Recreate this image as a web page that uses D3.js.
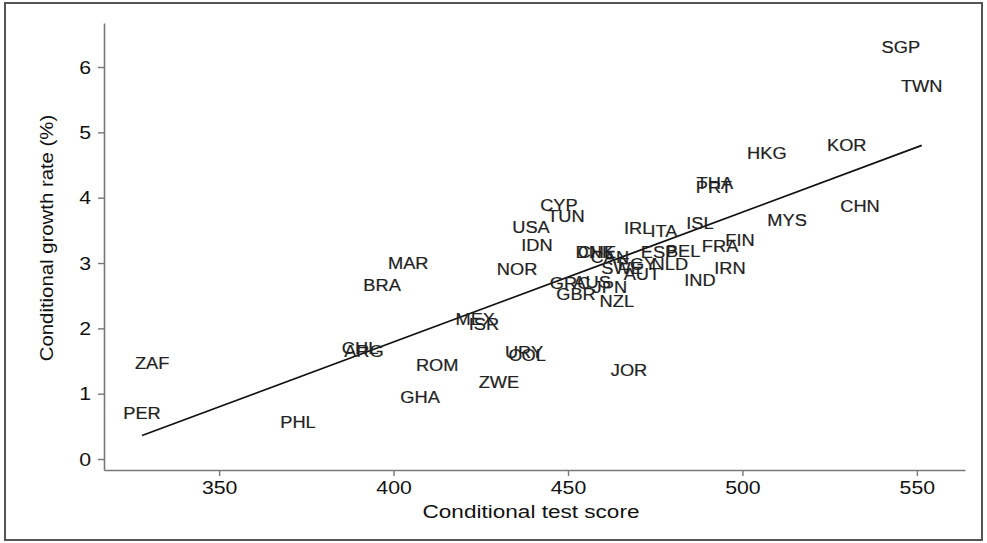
<!DOCTYPE html>
<html><head><meta charset="utf-8">
<script src="https://cdn.jsdelivr.net/npm/d3@7"></script>
<style>html,body{margin:0;padding:0;background:#fff;}svg{display:block;font-family:"Liberation Sans",Arial,sans-serif;}</style>
</head><body><svg id="c" width="987" height="543"></svg>
<script>
const countries = ["SGP","TWN","KOR","HKG","CHN","THA","PRT","MYS","ISL","FIN","FRA","BEL","ESP","ITA","IRL","IRN","IND","NLD","EGY","SWE","AUT","DNK","CHE","CAN","GRC","AUS","JPN","GBR","NZL","CYP","TUN","USA","IDN","NOR","MAR","BRA","MEX","ISR","URY","COL","JOR","ZWE","ROM","GHA","PHL","CHL","ARG","ZAF","PER"];
const testScore = [545.4,551.4,529.9,507.0,533.7,492.1,491.8,512.8,487.8,499.3,493.6,483.0,476.1,477.5,470.1,496.4,487.8,479.2,469.8,465.5,471.2,457.7,458.3,462.0,450.6,456.9,462.0,452.3,464.0,447.4,449.4,439.4,441.1,435.4,404.2,396.7,423.4,425.9,437.4,438.3,467.5,430.2,412.5,407.6,372.6,390.4,391.5,330.8,327.9];
const growthRate = [6.31,5.71,4.81,4.68,3.87,4.22,4.16,3.66,3.61,3.35,3.26,3.18,3.17,3.49,3.54,2.92,2.74,2.98,2.98,2.92,2.83,3.17,3.17,3.09,2.69,2.71,2.63,2.53,2.42,3.89,3.72,3.55,3.28,2.91,3.00,2.66,2.14,2.07,1.64,1.59,1.36,1.18,1.44,0.95,0.57,1.70,1.65,1.47,0.70];
const fitScore = [327.9, 551.4];
const fitGrowth = [0.36, 4.80];
const xTicks = [350,400,450,500,550];
const yTicks = [0,1,2,3,4,5,6];

const svg = d3.select("#c");
const SX = 1.12;
svg.append("rect").attr("x",5).attr("y",3).attr("width",977).attr("height",537)
  .attr("fill","none").attr("stroke","#555").attr("stroke-width",2);

const x = d3.scaleLinear().domain([317,563.8]).range([104,965]);
const y = d3.scaleLinear().domain([-0.168,6.674]).range([470,23]);

const gx = svg.append("g").attr("transform","translate(0,470)")
  .call(d3.axisBottom(x).tickValues(xTicks).tickFormat(d3.format("d")).tickSize(6).tickPadding(5).tickSizeOuter(0));
const gy = svg.append("g").attr("transform","translate(104,0)")
  .call(d3.axisLeft(y).tickValues(yTicks).tickFormat(d3.format("d")).tickSize(6).tickPadding(7).tickSizeOuter(0));
[gx,gy].forEach(g=>{
  g.select(".domain").attr("stroke","#777").attr("stroke-width",1.6);
  g.selectAll(".tick line").attr("stroke","#777").attr("stroke-width",1.4);
  g.selectAll(".tick text").attr("font-size",19).attr("fill","#111").attr("font-family","Liberation Sans, Arial, sans-serif");
});
gx.selectAll(".tick text").attr("transform",`scale(${SX},1)`);
gy.selectAll(".tick text").attr("transform",`translate(-13,0) scale(${SX},1) translate(13,0)`);

svg.append("path").datum(fitScore.map((s,i)=>[s,fitGrowth[i]]))
  .attr("d", d3.line().x(d=>x(d[0])).y(d=>y(d[1])))
  .attr("fill","none").attr("stroke","#111").attr("stroke-width",1.8);

const data = countries.map((c,i)=>({c, s:testScore[i], g:growthRate[i]}));
svg.append("g").selectAll("g").data(data).join("g")
  .attr("transform",d=>`translate(${x(d.s)},${y(d.g)}) scale(${SX},1)`)
  .append("text").attr("text-anchor","middle").attr("dy","0.36em")
  .attr("font-size",16.3).attr("fill","#222").attr("stroke","#222").attr("stroke-width",0.2).text(d=>d.c);

svg.append("text").attr("transform",`translate(531,518) scale(1.22,1)`)
  .attr("text-anchor","middle").attr("font-size",18.5).attr("fill","#111").text("Conditional test score");
svg.append("text").attr("transform","translate(53,238) rotate(-90) scale(1.1,1)")
  .attr("text-anchor","middle").attr("font-size",18.5).attr("fill","#111").text("Conditional growth rate (%)");
</script></body></html>
